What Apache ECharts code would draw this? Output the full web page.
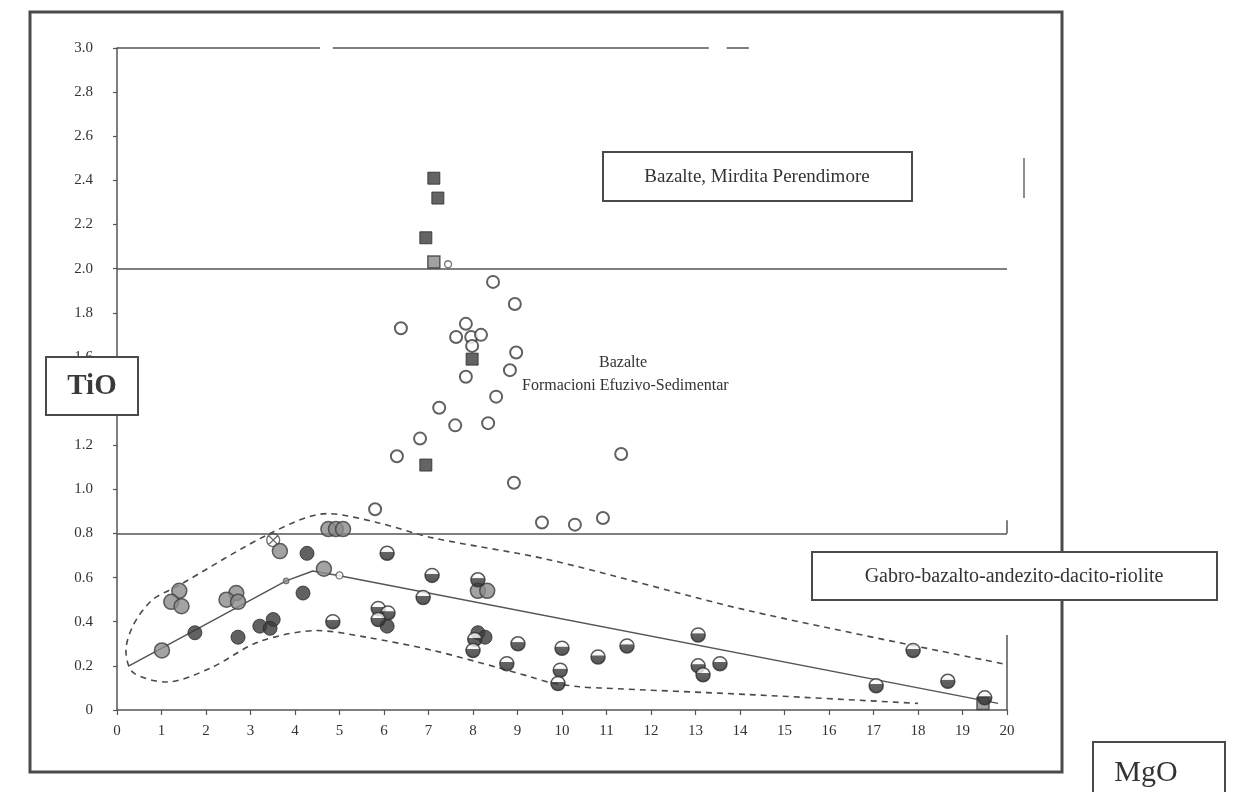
<!DOCTYPE html>
<html>
<head>
<meta charset="utf-8">
<script src="https://cdn.jsdelivr.net/npm/echarts@6/dist/echarts.min.js"></script>
<style>
html,body{margin:0;padding:0;background:#fff;}
#chart{width:1240px;height:792px;}
</style>
</head>
<body>
<div id="chart"></div>
<script>
// ---- data (MgO, TiO) ----
const xTickLabels = ['0','1','2','3','4','5','6','7','8','9','10','11','12','13','14','15','16','17','18','19','20'];
const yTickLabels = ['0','0.2','0.4','0.6','0.8','1.0','1.2','1.4','1.6','1.8','2.0','2.2','2.4','2.6','2.8','3.0'];

const squaresDark = [[7.12,2.41],[7.21,2.32],[6.94,2.14],[7.98,1.59],[6.94,1.11]];
const squaresGray = [[7.12,2.03],[19.46,0.03]];

const openCircles = [
  [8.45,1.94],[8.94,1.84],[6.38,1.73],[7.84,1.75],[7.62,1.69],[7.96,1.69],[8.18,1.70],
  [7.98,1.65],[8.97,1.62],[8.83,1.54],[7.84,1.51],[8.52,1.42],[7.24,1.37],[7.60,1.29],
  [8.34,1.30],[6.81,1.23],[6.29,1.15],[11.33,1.16],[8.92,1.03],[5.80,0.91],[9.55,0.85],
  [10.29,0.84],[10.92,0.87]
];
const smallOpenCircles = [[7.44,2.02],[5.0,0.61]];
const crossCircles = [[3.51,0.77]];

const grayCircles = [
  [1.40,0.54],[1.22,0.49],[1.45,0.47],
  [2.68,0.53],[2.46,0.50],[2.72,0.49],
  [1.01,0.27],[3.66,0.72],[4.65,0.64],
  [4.75,0.82],[4.92,0.82],[5.08,0.82],
  [8.11,0.54],[8.32,0.54]
];
const smallGrayCircles = [[3.8,0.585]];
const darkCircles = [
  [1.75,0.35],[2.72,0.33],[3.21,0.38],[3.51,0.41],[3.44,0.37],
  [4.27,0.71],[4.18,0.53],[6.07,0.38],[8.11,0.35],[8.27,0.33]
];
const halfCircles = [
  [4.85,0.40],[6.07,0.71],[7.08,0.61],[6.88,0.51],[5.87,0.46],[6.09,0.44],[5.87,0.41],
  [8.11,0.59],[8.04,0.32],[8.00,0.27],[9.01,0.30],[8.76,0.21],[10.0,0.28],[9.96,0.18],
  [9.91,0.12],[10.81,0.24],[11.46,0.29],[13.06,0.34],[13.06,0.20],[13.17,0.16],[13.55,0.21],
  [17.06,0.11],[17.89,0.27],[18.67,0.13],[19.5,0.055]
];

const trendLine = [[0.27,0.20],[3.8,0.585],[4.4,0.63],[4.97,0.61],[19.8,0.03]];
const envelope = [
  [19.9,0.21],[14.2,0.45],[9.73,0.68],[7.1,0.78],[5.84,0.85],[4.72,0.89],[3.44,0.80],
  [1.35,0.56],[0.80,0.50],[0.38,0.39],[0.20,0.27],[0.36,0.17],[1.12,0.127],[2.1,0.19],
  [3.2,0.31],[4.5,0.36],[5.6,0.33],[7.1,0.27],[8.6,0.19],[9.3,0.15],[9.73,0.125],
  [10.4,0.105],[10.85,0.10],[14.2,0.07],[18.0,0.03]
];
const refLinesH = [2.0, 0.8];

// ---- styles ----
const serif = '"Liberation Serif","DejaVu Serif",serif';
const lineCol = '#555';
const halfFill = {
  type:'linear', x:0, y:0, x2:0, y2:1,
  colorStops:[{offset:0,color:'#ffffff'},{offset:0.38,color:'#f4f4f4'},{offset:0.42,color:'#3c3c3c'},{offset:1,color:'#2e2e2e'}]
};
const crossPath = 'path://M0,-10 A10,10 0 1,1 0,10 A10,10 0 1,1 0,-10 Z M-7,-7 L7,7 M7,-7 L-7,7';

const chart = echarts.init(document.getElementById('chart'));

const markH = refLinesH.map(v => [{coord:[0,v]},{coord:[20,v]}]);

chart.setOption({
  backgroundColor:'#ffffff',
  animation:false,
  grid:{left:117, right:233, top:48, bottom:82, containLabel:false},
  xAxis:{
    type:'value', min:0, max:20, interval:1,
    axisLine:{show:true, onZero:false, lineStyle:{color:lineCol, width:1.5}},
    axisTick:{show:true, length:5, inside:false, lineStyle:{color:lineCol, width:1.2}},
    splitLine:{show:false},
    axisLabel:{color:'#333', fontFamily:serif, fontSize:15, margin:14,
      formatter:(v)=> xTickLabels[Math.round(v)] }
  },
  yAxis:{
    type:'value', min:0, max:3, interval:0.2,
    axisLine:{show:true, onZero:false, lineStyle:{color:lineCol, width:1.5}},
    axisTick:{show:true, length:4, inside:false, lineStyle:{color:lineCol, width:1.2}},
    splitLine:{show:false},
    axisLabel:{color:'#333', fontFamily:serif, fontSize:15, margin:24,
      formatter:(v)=> yTickLabels[Math.round(v/0.2)] }
  },
  graphic:[
    {type:'rect', z:0, shape:{x:30, y:12, width:1032, height:760}, style:{fill:'none', stroke:'#4a4a4a', lineWidth:3}},
    {type:'line', z:1, shape:{x1:1024, y1:158, x2:1024, y2:198}, style:{stroke:'#666', lineWidth:1.5}},
    // boxes
    {type:'rect', z:100, shape:{x:603, y:152, width:309, height:49}, style:{fill:'#fff', stroke:'#4a4a4a', lineWidth:2}},
    {type:'text', z:101, x:757, y:177, style:{text:'Bazalte, Mirdita Perendimore', font:'19px '+serif, fill:'#333', align:'center', verticalAlign:'middle'}},
    {type:'rect', z:100, shape:{x:812, y:552, width:405, height:48}, style:{fill:'#fff', stroke:'#4a4a4a', lineWidth:2}},
    {type:'text', z:101, x:1014, y:577, style:{text:'Gabro-bazalto-andezito-dacito-riolite', font:'20px '+serif, fill:'#333', align:'center', verticalAlign:'middle'}},
    {type:'rect', z:100, shape:{x:46, y:357, width:92, height:58}, style:{fill:'#fff', stroke:'#4a4a4a', lineWidth:2}},
    {type:'text', z:101, x:92, y:387, style:{text:'TiO', font:'bold 29px '+serif, fill:'#3a3a3a', align:'center', verticalAlign:'middle'}},
    {type:'rect', z:100, shape:{x:1093, y:742, width:132, height:62}, style:{fill:'#fff', stroke:'#4a4a4a', lineWidth:2}},
    {type:'text', z:101, x:1146, y:773, style:{text:'MgO', font:'30px '+serif, fill:'#333', align:'center', verticalAlign:'middle'}},
    // inner label
    {type:'text', z:101, x:623, y:363, style:{text:'Bazalte', font:'16px '+serif, fill:'#333', align:'center', verticalAlign:'middle'}},
    {type:'text', z:101, x:522, y:386, style:{text:'Formacioni Efuzivo-Sedimentar', font:'16px '+serif, fill:'#333', align:'left', verticalAlign:'middle'}}
  ],
  series:[
    {
      type:'line', data:trendLine, showSymbol:false, silent:true, z:3,
      lineStyle:{color:lineCol, width:1.5},
      markLine:{
        silent:true, symbol:'none', label:{show:false}, animation:false,
        lineStyle:{color:lineCol, width:1.5, type:'solid'},
        data: markH.concat([
          [{coord:[0,3.0]},{coord:[4.56,3.0]}],
          [{coord:[4.85,3.0]},{coord:[13.3,3.0]}],
          [{coord:[13.7,3.0]},{coord:[14.2,3.0]}],
          [{coord:[20,0]},{coord:[20,0.34]}],
          [{coord:[20,0.8]},{coord:[20,0.86]}]
        ])
      }
    },
    {
      type:'line', data:envelope, showSymbol:false, silent:true, smooth:0.3, z:3,
      lineStyle:{color:'#4a4a4a', width:1.6, type:[6,5]}
    },
    {type:'scatter', data:squaresDark, symbol:'rect', symbolSize:12, z:5,
      itemStyle:{color:'#3d3d3d', borderColor:'#2a2a2a', borderWidth:1}},
    {type:'scatter', data:squaresGray, symbol:'rect', symbolSize:12, z:5,
      itemStyle:{color:'#8a8a8a', borderColor:'#3a3a3a', borderWidth:1.5}},
    {type:'scatter', data:openCircles, symbol:'circle', symbolSize:12, z:5,
      itemStyle:{color:'#ffffff', borderColor:'#3a3a3a', borderWidth:2}},
    {type:'scatter', data:smallOpenCircles, symbol:'circle', symbolSize:7, z:5,
      itemStyle:{color:'#ffffff', borderColor:'#555', borderWidth:1.3}},
    {type:'scatter', data:crossCircles, symbol:crossPath, symbolSize:13, z:5,
      itemStyle:{color:'rgba(255,255,255,0)', borderColor:'#444', borderWidth:1.3}},
    {type:'scatter', data:grayCircles, symbol:'circle', symbolSize:15, z:5,
      itemStyle:{color:'#8c8c8c', borderColor:'#3e3e3e', borderWidth:1.5}},
    {type:'scatter', data:smallGrayCircles, symbol:'circle', symbolSize:6, z:5,
      itemStyle:{color:'#8c8c8c', borderColor:'#555', borderWidth:1}},
    {type:'scatter', data:darkCircles, symbol:'circle', symbolSize:14, z:5,
      itemStyle:{color:'#3a3a3a', borderColor:'#2a2a2a', borderWidth:1}},
    {type:'scatter', data:halfCircles, symbol:'circle', symbolSize:14, z:6,
      itemStyle:{color:halfFill, borderColor:'#2e2e2e', borderWidth:1.5}}
  ]
});
</script>
</body>
</html>
